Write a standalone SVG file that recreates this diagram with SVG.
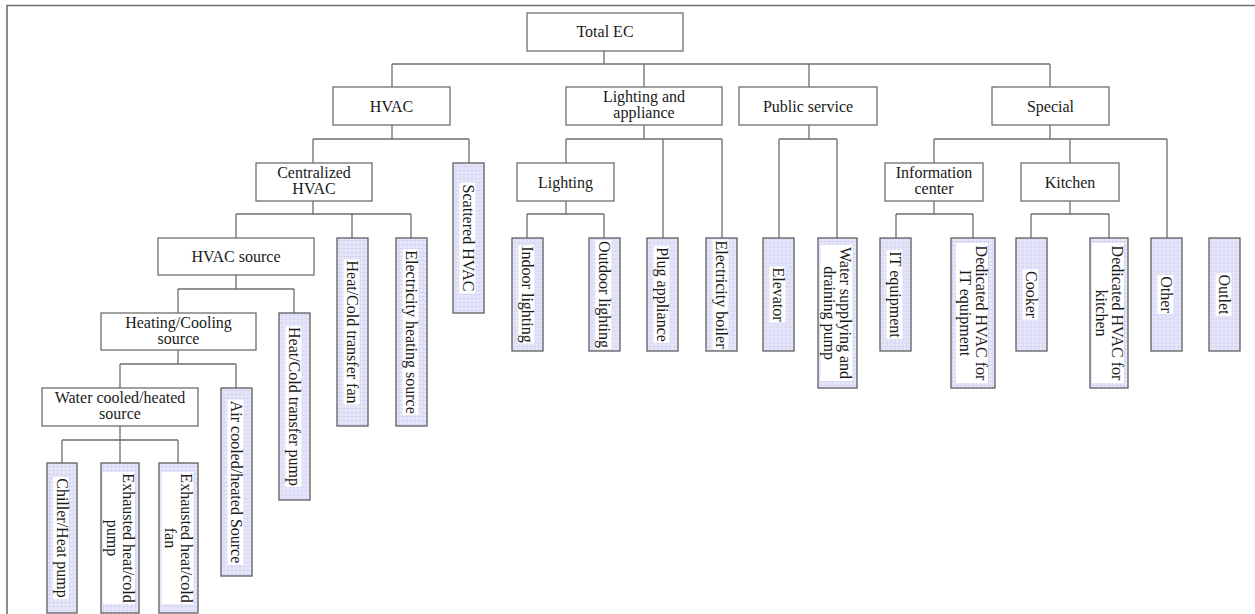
<svg xmlns="http://www.w3.org/2000/svg" width="1255" height="614" viewBox="0 0 1255 614">
<style>
.t{font-family:"Liberation Serif","Times New Roman",serif;font-size:16px;fill:#1a1a1a;text-anchor:middle}
.hb{fill:#fff;stroke:#6e6e6e;stroke-width:1.3}
.vb{fill:url(#grid);stroke:#5e5e5e;stroke-width:1.3}
.wt{fill:#fff}
.cn{fill:none;stroke:#6e6e6e;stroke-width:1.3}
.fr{fill:none;stroke:#707070;stroke-width:1.6}
</style>
<defs>
<pattern id="grid" width="4" height="4" patternUnits="userSpaceOnUse">
<rect width="4" height="4" fill="#e8e8fb"/>
<path d="M0 0.5H4M0.5 0V4" stroke="#d6d6f2" stroke-width="1"/>
</pattern>
</defs>
<rect width="1255" height="614" fill="#fff"/>
<path class="fr" d="M7 614V5.5H1255"/>
<g id="connectors">
<path class="cn" d="M604 51V64M392 64H1050M392 64V87M644 64V87M809 64V87M1050 64V87"/>
<path class="cn" d="M392 125V139M313 139H469M313 139V163M469 139V163"/>
<path class="cn" d="M644 125V139M566 139H722M566 139V163M663 139V238M722 139V238"/>
<path class="cn" d="M809 125V139M779 139H837M779 139V238M837 139V238"/>
<path class="cn" d="M1050 125V139M934 139H1167M934 139V163M1070 139V163M1167 139V238"/>
<path class="cn" d="M313 201V214M236 214H411M236 214V238M352 214V238M411 214V238"/>
<path class="cn" d="M566 201V214M527 214H604M527 214V238M604 214V238"/>
<path class="cn" d="M934 201V214M896 214H973M896 214V238M973 214V238"/>
<path class="cn" d="M1070 201V214M1031 214H1109M1031 214V238M1109 214V238"/>
<path class="cn" d="M236 275V289M178 289H294M178 289V313M294 289V313"/>
<path class="cn" d="M178 350V364M120 364H236M120 364V388M236 364V388"/>
<path class="cn" d="M120 426V440M62 440H178M62 440V463M120 440V463M178 440V463"/>
</g>
<g id="total-ec"><rect class="hb" x="527" y="13" width="156" height="38"/><text class="t" x="605" y="37">Total EC</text></g>
<g id="hvac"><rect class="hb" x="333" y="87" width="117" height="38"/><text class="t" x="391.5" y="111.5">HVAC</text></g>
<g id="lighting-appliance"><rect class="hb" x="566" y="87" width="156" height="38"/><text class="t" x="644" y="102">Lighting and</text><text class="t" x="644" y="118">appliance</text></g>
<g id="public-service"><rect class="hb" x="739" y="87" width="138" height="38"/><text class="t" x="808" y="111.5">Public service</text></g>
<g id="special"><rect class="hb" x="992" y="87" width="117" height="38"/><text class="t" x="1050.5" y="111.5">Special</text></g>
<g id="centralized-hvac"><rect class="hb" x="256" y="163" width="116" height="38"/><text class="t" x="314" y="178">Centralized</text><text class="t" x="314" y="194">HVAC</text></g>
<g id="lighting"><rect class="hb" x="517" y="163" width="97" height="38"/><text class="t" x="565.5" y="187.5">Lighting</text></g>
<g id="information-center"><rect class="hb" x="885" y="163" width="98" height="38"/><text class="t" x="934" y="178">Information</text><text class="t" x="934" y="194">center</text></g>
<g id="kitchen"><rect class="hb" x="1021" y="163" width="98" height="38"/><text class="t" x="1070" y="187.5">Kitchen</text></g>
<g id="hvac-source"><rect class="hb" x="158" y="238" width="156" height="37"/><text class="t" x="236" y="262">HVAC source</text></g>
<g id="heating-cooling-source"><rect class="hb" x="101" y="313" width="155" height="37"/><text class="t" x="178.5" y="327.5">Heating/Cooling</text><text class="t" x="178.5" y="343.5">source</text></g>
<g id="water-source"><rect class="hb" x="42" y="388" width="156" height="38"/><text class="t" x="120" y="403">Water cooled/heated</text><text class="t" x="120" y="419">source</text></g>

<g id="scattered-hvac" transform="translate(468.5 238) rotate(90)"><rect class="vb" x="-75" y="-15.5" width="150" height="31"/><rect class="wt" x="-55.5" y="-7" width="111" height="16"/><text class="t" x="0" y="5.5">Scattered HVAC</text></g>
<g id="heat-cold-transfer-fan" transform="translate(352.5 332) rotate(90)"><rect class="vb" x="-94" y="-15.5" width="188" height="31"/><rect class="wt" x="-72.5" y="-7" width="145" height="16"/><text class="t" x="0" y="5.5">Heat/Cold transfer fan</text></g>
<g id="electricity-heating-source" transform="translate(411.5 332) rotate(90)"><rect class="vb" x="-94" y="-15.5" width="188" height="31"/><rect class="wt" x="-83" y="-7" width="166" height="16"/><text class="t" x="0" y="5.5">Electricity heating source</text></g>
<g id="heat-cold-transfer-pump" transform="translate(294.5 406.5) rotate(90)"><rect class="vb" x="-93.5" y="-15.5" width="187" height="31"/><rect class="wt" x="-80.5" y="-7" width="161" height="16"/><text class="t" x="0" y="5.5">Heat/Cold transfer pump</text></g>
<g id="air-source" transform="translate(236.5 482) rotate(90)"><rect class="vb" x="-94" y="-15.5" width="188" height="31"/><rect class="wt" x="-82.5" y="-7" width="165" height="16"/><text class="t" x="0" y="5.5">Air cooled/heated Source</text></g>
<g id="chiller-heat-pump" transform="translate(62 538) rotate(90)"><rect class="vb" x="-75" y="-15" width="150" height="30"/><rect class="wt" x="-61" y="-7" width="122" height="16"/><text class="t" x="0" y="5.5">Chiller/Heat pump</text></g>
<g id="exhausted-pump" transform="translate(120 538) rotate(90)"><rect class="vb" x="-75" y="-19" width="150" height="38"/><rect class="wt" x="-66" y="-15" width="132" height="32"/><text class="t" x="0" y="-2.5">Exhausted heat/cold</text><text class="t" x="0" y="13.5">pump</text></g>
<g id="exhausted-fan" transform="translate(178.5 538) rotate(90)"><rect class="vb" x="-75" y="-19.5" width="150" height="39"/><rect class="wt" x="-66" y="-15" width="132" height="32"/><text class="t" x="0" y="-2.5">Exhausted heat/cold</text><text class="t" x="0" y="13.5">fan</text></g>
<g id="indoor-lighting" transform="translate(527.5 294.5) rotate(90)"><rect class="vb" x="-56.5" y="-15.5" width="113" height="31"/><rect class="wt" x="-49" y="-7" width="98" height="16"/><text class="t" x="0" y="5.5">Indoor lighting</text></g>
<g id="outdoor-lighting" transform="translate(604.5 294.5) rotate(90)"><rect class="vb" x="-56.5" y="-15.5" width="113" height="31"/><rect class="wt" x="-54.5" y="-7" width="109" height="16"/><text class="t" x="0" y="5.5">Outdoor lighting</text></g>
<g id="plug-appliance" transform="translate(662.5 294.5) rotate(90)"><rect class="vb" x="-56.5" y="-15.5" width="113" height="31"/><rect class="wt" x="-48.5" y="-7" width="97" height="16"/><text class="t" x="0" y="5.5">Plug appliance</text></g>
<g id="electricity-boiler" transform="translate(721.5 294.5) rotate(90)"><rect class="vb" x="-56.5" y="-15.5" width="113" height="31"/><rect class="wt" x="-55" y="-7" width="110" height="16"/><text class="t" x="0" y="5.5">Electricity boiler</text></g>
<g id="elevator" transform="translate(778.5 294.5) rotate(90)"><rect class="vb" x="-56.5" y="-15.5" width="113" height="31"/><rect class="wt" x="-28" y="-7" width="56" height="16"/><text class="t" x="0" y="5.5">Elevator</text></g>
<g id="water-pump" transform="translate(837.5 313) rotate(90)"><rect class="vb" x="-75" y="-19.5" width="150" height="39"/><rect class="wt" x="-68" y="-15" width="136" height="32"/><text class="t" x="0" y="-2.5">Water supplying and</text><text class="t" x="0" y="13.5">draining pump</text></g>
<g id="it-equipment" transform="translate(895.5 294.5) rotate(90)"><rect class="vb" x="-56.5" y="-15.5" width="113" height="31"/><rect class="wt" x="-44.5" y="-7" width="89" height="16"/><text class="t" x="0" y="5.5">IT equipment</text></g>
<g id="dedicated-hvac-it" transform="translate(973 313) rotate(90)"><rect class="vb" x="-75" y="-22" width="150" height="44"/><rect class="wt" x="-70" y="-15" width="140" height="32"/><text class="t" x="0" y="-2.5">Dedicated HVAC for</text><text class="t" x="0" y="13.5">IT equipment</text></g>
<g id="cooker" transform="translate(1031.5 294.5) rotate(90)"><rect class="vb" x="-56.5" y="-15.5" width="113" height="31"/><rect class="wt" x="-25" y="-7" width="50" height="16"/><text class="t" x="0" y="5.5">Cooker</text></g>
<g id="dedicated-hvac-kitchen" transform="translate(1109 313) rotate(90)"><rect class="vb" x="-75" y="-19" width="150" height="38"/><rect class="wt" x="-70" y="-15" width="140" height="32"/><text class="t" x="0" y="-2.5">Dedicated HVAC for</text><text class="t" x="0" y="13.5">kitchen</text></g>
<g id="other" transform="translate(1166.5 294.5) rotate(90)"><rect class="vb" x="-56.5" y="-15.5" width="113" height="31"/><rect class="wt" x="-19.5" y="-7" width="39" height="16"/><text class="t" x="0" y="5.5">Other</text></g>
<g id="outlet" transform="translate(1224.5 294.5) rotate(90)"><rect class="vb" x="-56.5" y="-15.5" width="113" height="31"/><rect class="wt" x="-21.5" y="-7" width="43" height="16"/><text class="t" x="0" y="5.5">Outlet</text></g>
</svg>
